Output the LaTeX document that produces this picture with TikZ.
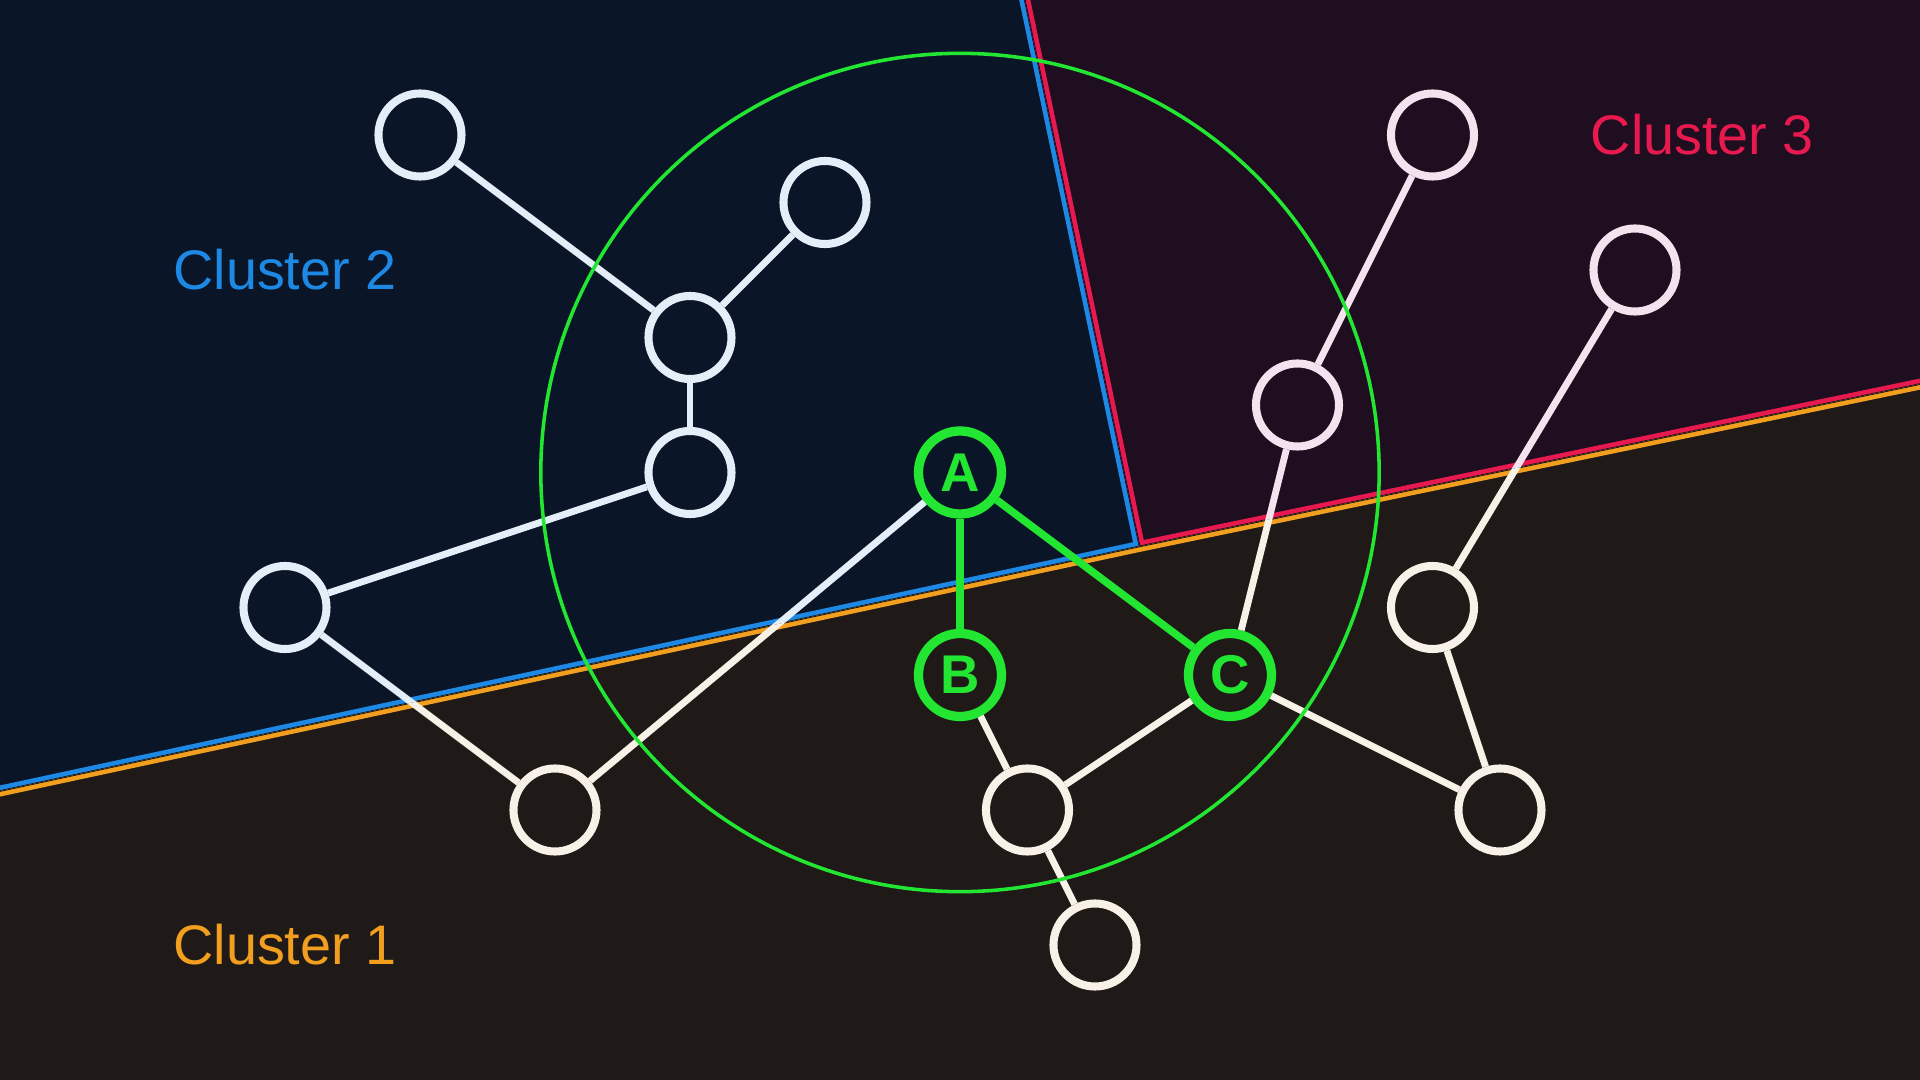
\documentclass[tikz,border=0pt]{standalone}
\usepackage{fontspec}
\setmainfont{Liberation Sans}
\usetikzlibrary{backgrounds}

\definecolor{bgone}{HTML}{1F1A17}
\definecolor{bgtwo}{HTML}{0A1628}
\definecolor{bgthree}{HTML}{1E0E1F}
\definecolor{orangeone}{HTML}{F29F1F}
\definecolor{bluetwo}{HTML}{1E88E5}
\definecolor{redthree}{HTML}{E8194F}
\definecolor{tintone}{HTML}{F7F1E7}
\definecolor{tinttwo}{HTML}{E4EEF9}
\definecolor{tintthree}{HTML}{F4E2EE}
\definecolor{hopgreen}{HTML}{22E632}

\newcommand{\edgelist}{n1/n3, n2/n3, n3/n4, n4/n5, n5/n6, n6/A, B/n7, C/n7,
  n7/n8, C/n9, n9/n10, C/n13, n11/n12, n12/n13}

\begin{document}
\begin{tikzpicture}[
  font=\fontsize{23.5}{26}\selectfont,
  vert/.style={circle, draw, line width=3.4pt, minimum size=1.23cm, inner sep=0pt},
  vone/.style={vert, draw=tintone},
  vtwo/.style={vert, draw=tinttwo},
  vthree/.style={vert, draw=tintthree},
  seed/.style={vert, draw=hopgreen, line width=3.9pt, text=hopgreen,
               font=\fontsize{23}{26}\selectfont\bfseries},
  link/.style={line width=2.9pt},
  seedlink/.style={line width=3.2pt, hopgreen},
  border/.style={line width=4.6pt, line join=miter},
  gap/.style={line width=0.7pt, line join=miter},
  halo/.style={line width=1.5pt, hopgreen}
]
\useasboundingbox (-14.2222,-8) rectangle (14.2222,8);

% region corners
\coordinate (TL) at (-14.6,8.4);
\coordinate (TR) at (14.6,8.4);
\coordinate (BR) at (14.6,-8.4);
\coordinate (BL) at (-14.6,-8.4);
\coordinate (L) at (-14.6,-3.80);
\coordinate (J) at (2.66,-0.095);
\coordinate (T) at (0.876,8.4);
\coordinate (R) at (14.6,2.388);

% vertices
\node (n1) [vtwo] at (-8,6) {};
\node (n2) [vtwo] at (-2,5) {};
\node (n3) [vtwo] at (-4,3) {};
\node (n4) [vtwo] at (-4,1) {};
\node (n5) [vtwo] at (-10,-1) {};
\node (A) [seed] at (0,1) {A};
\node (B) [seed] at (0,-2) {B};
\node (C) [seed] at (4,-2) {C};
\node (n6) [vone] at (-6,-4) {};
\node (n7) [vone] at (1,-4) {};
\node (n8) [vone] at (2,-6) {};
\node (n12) [vone] at (7,-1) {};
\node (n13) [vone] at (8,-4) {};
\node (n9) [vthree] at (5,2) {};
\node (n10) [vthree] at (7,6) {};
\node (n11) [vthree] at (10,4) {};

% edges, tinted per region
\begin{scope}
  \clip (TL) -- (T) -- (J) -- (L) -- cycle;
  \foreach \a/\b in \edgelist
    \draw [link, tinttwo] (\a) -- (\b);
\end{scope}
\begin{scope}
  \clip (T) -- (TR) -- (R) -- (J) -- cycle;
  \foreach \a/\b in \edgelist
    \draw [link, tintthree] (\a) -- (\b);
\end{scope}
\begin{scope}
  \clip (L) -- (J) -- (R) -- (BR) -- (BL) -- cycle;
  \foreach \a/\b in \edgelist
    \draw [link, tintone] (\a) -- (\b);
\end{scope}

\begin{pgfonlayer}{background}
  \begin{scope}
    \clip (TL) -- (T) -- (J) -- (L) -- cycle;
    \fill [bgtwo] (TL) -- (T) -- (J) -- (L) -- cycle;
    \draw [border, bluetwo] (T) -- (J) -- (L);
    \draw [gap, bgtwo] (T) -- (J) -- (L);
  \end{scope}
  \begin{scope}
    \clip (T) -- (TR) -- (R) -- (J) -- cycle;
    \fill [bgthree] (T) -- (TR) -- (R) -- (J) -- cycle;
    \draw [border, redthree] (T) -- (J) -- (R);
    \draw [gap, bgthree] (T) -- (J) -- (R);
  \end{scope}
  \begin{scope}
    \clip (L) -- (J) -- (R) -- (BR) -- (BL) -- cycle;
    \fill [bgone] (L) -- (J) -- (R) -- (BR) -- (BL) -- cycle;
    \draw [border, orangeone] (L) -- (J) -- (R);
    \draw [gap, bgone] (L) -- (J) -- (R);
  \end{scope}
\end{pgfonlayer}

% neighbourhood of A
\draw [seedlink] (A) -- (B);
\draw [seedlink] (A) -- (C);
\draw [halo] (A.center) circle (6.21);

\node (lone) [text=orangeone] at (-10,-6) {Cluster 1};
\node (ltwo) [text=bluetwo] at (-10,4) {Cluster 2};
\node (lthree) [text=redthree] at (11,6) {Cluster 3};

\end{tikzpicture}
\end{document}
